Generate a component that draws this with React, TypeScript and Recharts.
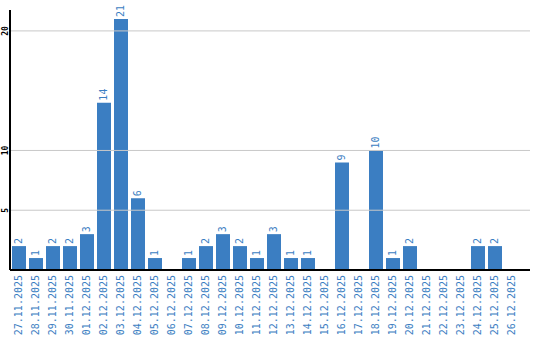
import React from 'react';
import { BarChart, Bar, XAxis, YAxis, ReferenceLine, LabelList } from 'recharts';

const categories = ['27.11.2025','28.11.2025','29.11.2025','30.11.2025','01.12.2025','02.12.2025','03.12.2025','04.12.2025','05.12.2025','06.12.2025','07.12.2025','08.12.2025','09.12.2025','10.12.2025','11.12.2025','12.12.2025','13.12.2025','14.12.2025','15.12.2025','16.12.2025','17.12.2025','18.12.2025','19.12.2025','20.12.2025','21.12.2025','22.12.2025','23.12.2025','24.12.2025','25.12.2025','26.12.2025'];
const values = [2,1,2,2,3,14,21,6,1,0,1,2,3,2,1,3,1,1,0,9,0,10,1,2,0,0,0,2,2,0];
const yTicks = [5, 10, 20];

const data = categories.map((c, i) => ({ date: c, count: values[i] }));

const BLUE = '#3b7ec2';
const FONT = '"DejaVu Sans Mono", monospace';

const XTick = (props: any) => {
  const { x, payload } = props;
  const ty = 275;
  return (
    <text x={x} y={ty} transform={`rotate(-90, ${x}, ${ty})`} textAnchor="end" dy="0.35em"
      fontSize={10} fontFamily={FONT} fill={BLUE}>{payload.value}</text>
  );
};

const YTick = (props: any) => {
  const { y, payload } = props;
  const cx = 5;
  return (
    <text x={cx} y={y} transform={`rotate(-90, ${cx}, ${y})`} textAnchor="middle" dy="0.35em"
      fontSize={8} fontWeight="bold" fontFamily={FONT} fill="#000">{payload.value}</text>
  );
};

const ValueLabel = (props: any) => {
  const { x, y, width, value } = props;
  if (!value) return null;
  const cx = x + width / 2;
  const cy = y - 2;
  return (
    <text x={cx} y={cy} transform={`rotate(-90, ${cx}, ${cy})`} textAnchor="start" dy="0.35em"
      fontSize={10} fontFamily={FONT} fill={BLUE}>{value}</text>
  );
};

export default function App() {
  return (
    <div style={{ position: 'absolute', left: 0, top: 0 }}>
      <BarChart width={540} height={340} data={data} margin={{ top: 10, right: 10, bottom: 0, left: 0 }}>
        {yTicks.map((t) => (
          <ReferenceLine key={t} y={t} stroke="#c8c8c8" strokeWidth={1} />
        ))}
        <XAxis dataKey="date" interval={0} height={70} tick={<XTick />} tickLine={false} tickSize={0}
          axisLine={{ stroke: '#000', strokeWidth: 2 }} padding={{ left: 0, right: 10 }} />
        <YAxis width={10} domain={[0, 21.75]} ticks={yTicks} tick={<YTick />} tickLine={false}
          axisLine={{ stroke: '#000', strokeWidth: 2 }} allowDataOverflow />
        <Bar dataKey="count" fill={BLUE} barSize={14} isAnimationActive={false}>
          <LabelList dataKey="count" content={<ValueLabel />} />
        </Bar>
      </BarChart>
    </div>
  );
}
